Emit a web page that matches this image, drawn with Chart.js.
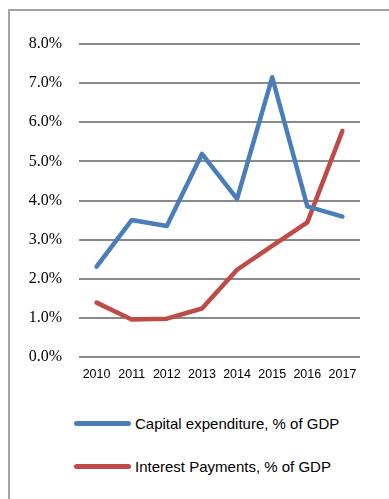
<!DOCTYPE html>
<html>
<head>
<meta charset="utf-8">
<script src="https://cdn.jsdelivr.net/npm/chart.js@4"></script>
<style>
  html, body { margin: 0; padding: 0; background: #fff; }
  body { width: 389px; height: 499px; position: relative; overflow: hidden; }
  #frame {
    position: absolute; left: 8px; top: 9px; width: 420px; height: 560px;
    border-top: 2px solid #a3a3a3; border-left: 2px solid #a3a3a3;
  }
  #wrap { position: absolute; left: 0; top: 0; width: 389px; height: 390px; }
  #legend { position: absolute; left: 74px; top: 410px; font-family: "Liberation Sans", Arial, sans-serif; font-size: 15px; color: #000; }
  .item { display: flex; align-items: center; height: 26px; margin-bottom: 17px; }
  .swatch { width: 57px; height: 5px; border-radius: 3px; margin-right: 4px; }
</style>
</head>
<body>
<div id="frame"></div>
<div id="wrap"><canvas id="chart" width="389" height="390"></canvas></div>
<div id="legend"></div>

<script>
// --- data ---
const years = ['2010', '2011', '2012', '2013', '2014', '2015', '2016', '2017'];
const capitalExp = [2.31, 3.50, 3.35, 5.19, 4.04, 7.15, 3.85, 3.59];
const interestPay = [1.39, 0.96, 0.98, 1.24, 2.23, 2.84, 3.44, 5.78];
const seriesNames = ['Capital expenditure, % of GDP', 'Interest Payments, % of GDP'];
const seriesColors = ['#4a7ebb', '#be4b48'];

const ctx = document.getElementById('chart').getContext('2d');
const chart = new Chart(ctx, {
  type: 'line',
  data: {
    labels: years,
    datasets: [capitalExp, interestPay].map((d, i) => ({
      label: seriesNames[i],
      data: d,
      borderColor: seriesColors[i],
      backgroundColor: seriesColors[i],
      borderWidth: 4.5,
      pointRadius: 0,
      tension: 0,
      borderCapStyle: 'round',
      borderJoinStyle: 'round',
      fill: false
    }))
  },
  options: {
    responsive: false,
    animation: false,
    layout: { padding: { top: 44, right: 29, left: 0, bottom: 0 } },
    plugins: { legend: { display: false }, tooltip: { enabled: false } },
    scales: {
      x: {
        offset: true,
        grid: { display: false, drawTicks: false },
        border: { display: false },
        ticks: { color: '#000', padding: 10, maxRotation: 0, font: { family: 'Liberation Sans', size: 12.5 } },
        afterFit: s => { s.height = 33; }
      },
      y: {
        min: 0, max: 8,
        ticks: {
          stepSize: 1, color: '#000', padding: 17,
          font: { family: 'Liberation Serif', size: 16 },
          callback: v => v.toFixed(1) + '%'
        },
        grid: { color: '#8a8a8a', lineWidth: 2, drawTicks: false },
        border: { display: false },
        afterFit: s => { s.width = 79; }
      }
    }
  }
});

// legend rows under the plot
const legend = document.getElementById('legend');
seriesNames.forEach((name, i) => {
  const row = document.createElement('div');
  row.className = 'item';
  row.innerHTML = '<div class="swatch" style="background:' + seriesColors[i] + '"></div><span>' + name + '</span>';
  legend.appendChild(row);
});
</script>
</body>
</html>
